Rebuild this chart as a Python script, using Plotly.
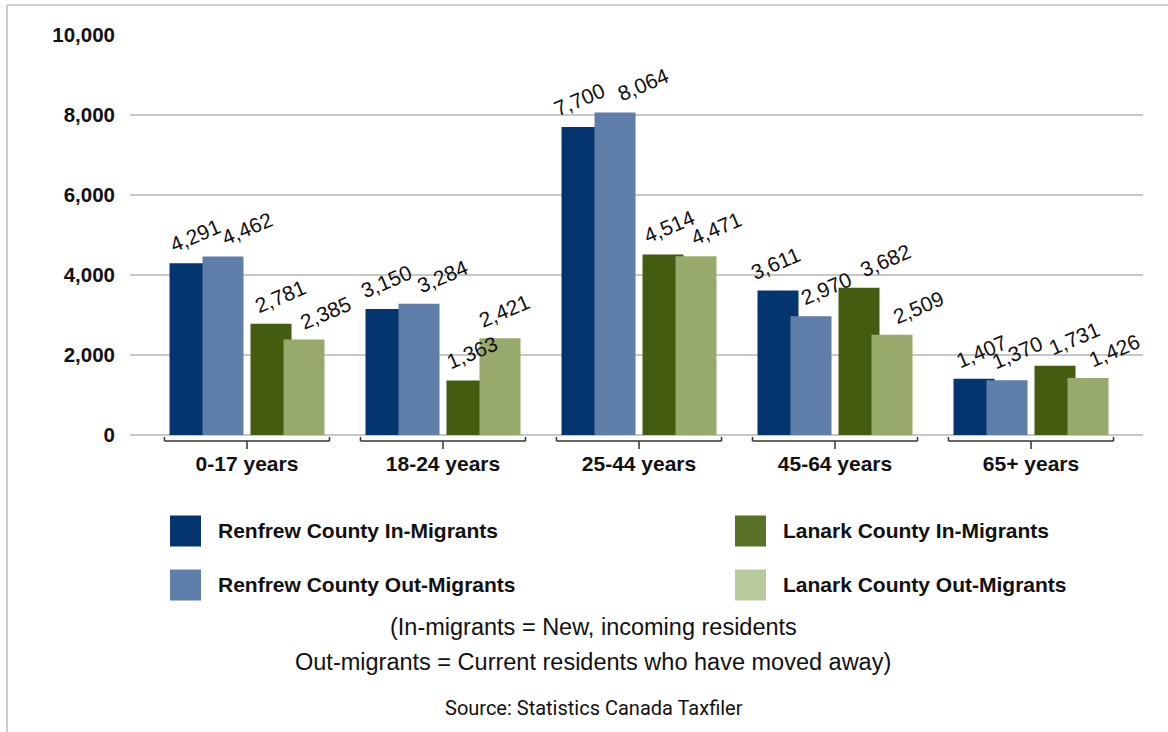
import plotly.graph_objects as go

# ---- data ----
categories = ["0-17 years", "18-24 years", "25-44 years", "45-64 years", "65+ years"]
series_names = [
    "Renfrew County In-Migrants",
    "Renfrew County Out-Migrants",
    "Lanark County In-Migrants",
    "Lanark County Out-Migrants",
]
renfrew_in = [4291, 3150, 7700, 3611, 1407]
renfrew_out = [4462, 3284, 8064, 2970, 1370]
lanark_in = [2781, 1363, 4514, 3682, 1731]
lanark_out = [2385, 2421, 4471, 2509, 1426]
y_tick_values = [0, 2000, 4000, 6000, 8000, 10000]
note_lines = [
    "(In-migrants = New, incoming residents",
    "Out-migrants = Current residents who have moved away)",
]
source_text = "Source: Statistics Canada Taxfiler"

# ---- styling ----
W, H = 1168, 732
PL, PR, PT, PB = 130, 1143, 35, 435          # plot area in pixels
bar_colors = ["#05356f", "#5f7ea9", "#435c10", "#97aa6c"]
legend_colors = ["#05356f", "#5f7ea9", "#5a7226", "#b8ca9b"]
bar_width = 0.2092
bar_offsets = [-0.3954, -0.2270, 0.0179, 0.1862]
# horizontal nudges (px) for the value labels so neighbouring labels don't collide
label_nudges = [
    [5, 0, -3, -3, 7],
    [24, 23, 28, 15, 10],
    [9, 5, 6, 26, 19],
    [22, 5, 20, 26, 26],
]
FONT = "Liberation Sans, Arial, sans-serif"


def px_x(px):
    return (px - PL) / (PR - PL)


def px_y(py):
    return (PB - py) / (PB - PT)


series_values = [renfrew_in, renfrew_out, lanark_in, lanark_out]
x_idx = list(range(len(categories)))

fig = go.Figure()
annotations = []
for name, vals, color, off, nudges in zip(series_names, series_values, bar_colors,
                                          bar_offsets, label_nudges):
    fig.add_trace(go.Bar(
        name=name,
        x=x_idx,
        y=vals,
        width=bar_width,
        offset=off,
        marker=dict(color=color, line=dict(width=0)),
        showlegend=False,
        hovertemplate=name + ": %{y:,}<extra></extra>",
    ))
    # rotated value labels above each bar
    for i, v, dx in zip(x_idx, vals, nudges):
        annotations.append(dict(
            xref="x", yref="y", x=i + off + bar_width / 2, y=v,
            xanchor="center", yanchor="bottom", xshift=dx, yshift=4,
            text=f"{v:,}", textangle=-23, showarrow=False,
            font=dict(family=FONT, size=21, color="#111111"),
        ))

shapes = []
# frame around the chart
shapes.append(dict(type="line", xref="paper", yref="paper",
                   x0=px_x(7), x1=px_x(W + 5), y0=px_y(5), y1=px_y(5),
                   line=dict(color="#cccccc", width=2)))
shapes.append(dict(type="line", xref="paper", yref="paper",
                   x0=px_x(7), x1=px_x(7), y0=px_y(5), y1=px_y(H + 5),
                   line=dict(color="#cccccc", width=2)))

# category brackets under the axis
half = 0.421
for i in x_idx:
    bl = dict(color="#333333", width=1.5)
    shapes.append(dict(type="line", xref="x", yref="paper",
                       x0=i - half, x1=i + half, y0=px_y(441), y1=px_y(441), line=bl))
    shapes.append(dict(type="line", xref="x", yref="paper",
                       x0=i - half, x1=i - half, y0=px_y(441), y1=px_y(437), line=bl))
    shapes.append(dict(type="line", xref="x", yref="paper",
                       x0=i + half, x1=i + half, y0=px_y(441), y1=px_y(437), line=bl))
    shapes.append(dict(type="line", xref="x", yref="paper",
                       x0=i, x1=i, y0=px_y(441), y1=px_y(449), line=bl))

# legend (2 x 2)
legend_pos = [(170, 531), (170, 585), (735, 531), (735, 585)]
for name, color, (lx, ly) in zip(series_names, legend_colors, legend_pos):
    shapes.append(dict(type="rect", xref="paper", yref="paper",
                       x0=px_x(lx), x1=px_x(lx + 31),
                       y0=px_y(ly - 15.5), y1=px_y(ly + 15.5),
                       fillcolor=color, line=dict(width=0)))
    annotations.append(dict(xref="paper", yref="paper", x=px_x(lx + 46), y=px_y(ly - 0.5),
                            xanchor="left", yanchor="middle", showarrow=False,
                            text=f"<b>{name}</b>",
                            font=dict(family=FONT, size=21, color="#111111")))

# notes and source
for line, cy in zip(note_lines, [627, 662]):
    annotations.append(dict(xref="paper", yref="paper", x=px_x(593), y=px_y(cy),
                            xanchor="center", yanchor="middle", showarrow=False,
                            text=line, font=dict(family=FONT, size=23.5, color="#111111")))
annotations.append(dict(xref="paper", yref="paper", x=px_x(594), y=px_y(708),
                        xanchor="center", yanchor="middle", showarrow=False,
                        text=source_text,
                        font=dict(family="Roboto, sans-serif", size=20, color="#111111")))

fig.update_layout(
    width=W, height=H,
    margin=dict(l=PL, r=W - PR, t=PT, b=H - PB, pad=0),
    paper_bgcolor="white", plot_bgcolor="white",
    barmode="overlay",
    showlegend=False,
    shapes=shapes,
    annotations=annotations,
    xaxis=dict(
        range=[-0.5969, 4.5714],
        tickvals=x_idx, ticktext=categories,
        tickfont=dict(family=FONT, size=21, color="#111111", weight="bold"),
        showgrid=False, zeroline=False, showline=False, ticks="",
        ticklabelstandoff=14,
        fixedrange=True,
    ),
    yaxis=dict(
        range=[0, 10000],
        tickvals=y_tick_values,
        tickformat=",d",
        tickfont=dict(family=FONT, size=20.5, color="#111111", weight="bold"),
        showgrid=True, gridcolor="#c8c8c8", gridwidth=1.5,
        zeroline=True, zerolinecolor="#c8c8c8", zerolinewidth=1.5,
        showline=False, ticks="",
        ticklabelstandoff=14,
        fixedrange=True,
    ),
)

fig.write_html("out.html")
